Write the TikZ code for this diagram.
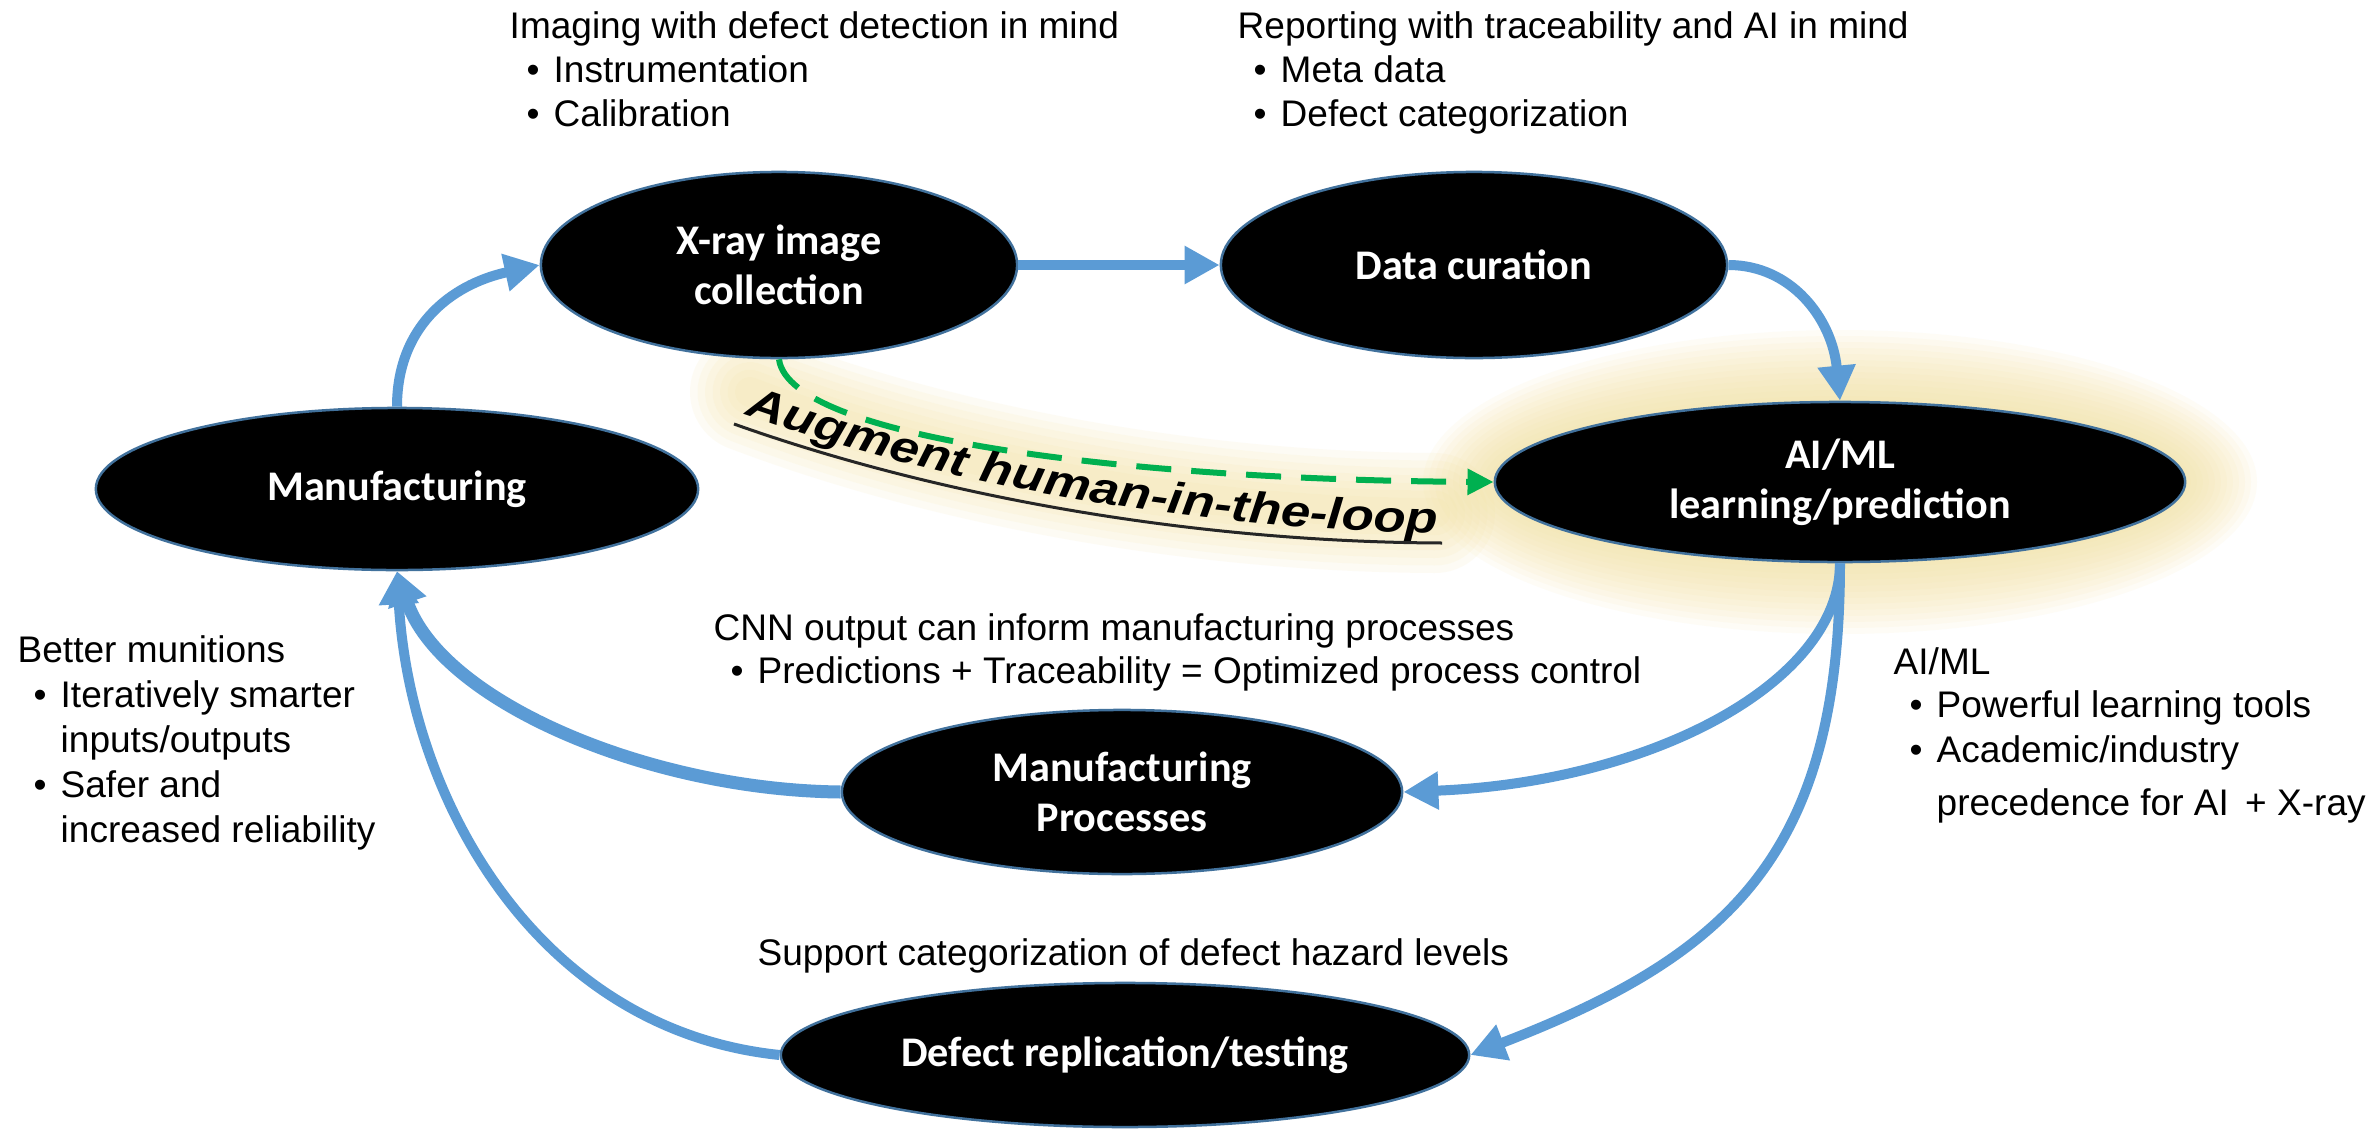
\documentclass[tikz,border=0pt]{standalone}
\usepackage{fontspec}
\setmainfont{Liberation Sans}
\newfontfamily\nodefont{Carlito}
\newfontfamily\augfont{Liberation Sans}[FakeStretch=1.2]
\usetikzlibrary{arrows.meta,shapes.geometric,decorations.text}

\definecolor{flowblue}{HTML}{5B9BD5}
\definecolor{rimblue}{HTML}{41719C}
\definecolor{augreen}{HTML}{00B050}
\definecolor{halo}{RGB}{244,226,160}

\pgfdeclarelayer{background}
\pgfsetlayers{background,main}

\newcommand{\itemdot}{\llap{•\hspace{0.14cm}}}

\tikzset{
  stage/.style={ellipse, fill=black, draw=rimblue, line width=0.025cm,
    inner sep=0pt, text=white, align=center,
    font=\nodefont\bfseries\fontsize{12}{14.2}\selectfont},
  flow/.style={draw=flowblue, line width=0.1cm,
    -{Triangle[length=0.35cm,width=0.36cm]}},
  intomfg/.style={-{Triangle[length=0.33cm,width=0.38cm]}},
  note/.style={anchor=base west, inner sep=0pt,
    font=\fontsize{10.53}{12.5}\selectfont},
}

\begin{document}
\begin{tikzpicture}[x=0.01cm, y=-0.01cm]
\useasboundingbox (0,0) rectangle (2371,1130);

% process stages
\node[stage, minimum width=6.02cm, minimum height=1.62cm] (mfg) at (397,489) {Manufacturing};
\node[stage, minimum width=4.76cm, minimum height=1.86cm] (xray) at (779,265) {X-ray image\\collection};
\node[stage, minimum width=5.06cm, minimum height=1.86cm] (cur) at (1474,265) {Data curation};
\node[stage, minimum width=6.9cm, minimum height=1.6cm] (ai) at (1840,482) {AI/ML\\learning/prediction};
\node[stage, minimum width=5.6cm, minimum height=1.64cm] (proc) at (1122,792) {Manufacturing\\Processes};
\node[stage, minimum width=6.88cm, minimum height=1.44cm] (defect) at (1125,1055) {Defect replication/testing};

% white page and soft glows
\begin{pgfonlayer}{background}
  \fill[white] (0,0) rectangle (2371,1130);
  \foreach \k in {1,...,12}
    \fill[halo, opacity=0.09] (ai.center) ellipse [x radius={345+6*\k}, y radius={80+6*\k}];
  \foreach \w in {30,45,60,75,90,105,120}
    \draw[halo, opacity=0.11, line width={\w*0.01cm}, line cap=round]
      (750,392) .. controls (950,468) and (1200,512) .. (1435,513);
\end{pgfonlayer}

% main cycle
\draw[flow] (mfg.north) .. controls +(0,-78) and +(-91,20) .. (xray.west);
\draw[flow] (xray.east) -- (cur.west);
\draw[flow] (cur.east) .. controls +(63,0) and +(-8,-82) .. (ai.north);
\draw[flow] (ai.south) .. controls +(0,118) and +(250,-10) .. (proc.east);
\draw[flow] (ai.south) .. controls +(0,290) and +(260,-100) .. (defect.east);
\draw[flow, intomfg, line width=0.13cm] (proc.west) .. controls +(-192,-2) and +(43,130) .. (mfg.south);
\draw[flow, intomfg] (defect.west) .. controls +(-241,-25) and +(13,230) .. (mfg.south);

% human-in-the-loop shortcut
\draw[augreen, line width=0.06cm, dash pattern=on 0.35cm off 0.2cm,
  -{Triangle[length=0.26cm,width=0.25cm]}]
  (xray.south) .. controls +(11,82) and +(-345,-2) .. (ai.west);

\path[decorate, decoration={text along path, text align=center,
  text={|\augfont\bfseries\itshape\fontsize{12.5}{15}\selectfont|Augment human-in-the-loop}}]
  (741,413) .. controls (950,487) and (1200,530) .. (1442,533);
\draw[black!85, line width=0.03cm] (734,424) .. controls (945,499) and (1200,542) .. (1442,543);

% annotations
\node[note] (imghead) at (509,38) {Imaging with defect detection in mind};
\node[note] (imgA) at (553,82) {\itemdot Instrumentation};
\node[note] (imgB) at (553,126) {\itemdot Calibration};

\node[note] (rephead) at (1237,38) {Reporting with traceability and AI in mind};
\node[note] (repA) at (1280,82) {\itemdot Meta data};
\node[note] (repB) at (1280,126) {\itemdot Defect categorization};

\node[note] (cnnhead) at (713,640) {CNN output can inform manufacturing processes};
\node[note] (cnnA) at (757,683) {\itemdot Predictions + Traceability = Optimized process control};

\node[note] (munhead) at (17,662) {Better munitions};
\node[note] (munA) at (60,707) {\itemdot Iteratively smarter};
\node[note] (munA2) at (60,752) {inputs/outputs};
\node[note] (munB) at (60,797) {\itemdot Safer and};
\node[note] (munB2) at (60,842) {increased reliability};

\node[note] (mlhead) at (1893,674) {AI/ML};
\node[note] (mlA) at (1936,717) {\itemdot Powerful learning tools};
\node[note] (mlB) at (1936,762) {\itemdot Academic/industry};
\node[note] (mlB2) at (1936,815) {precedence for AI\hspace{0.06cm} + X-ray};

\node[note] (hazard) at (757,965) {Support categorization of defect hazard levels};
\end{tikzpicture}
\end{document}
